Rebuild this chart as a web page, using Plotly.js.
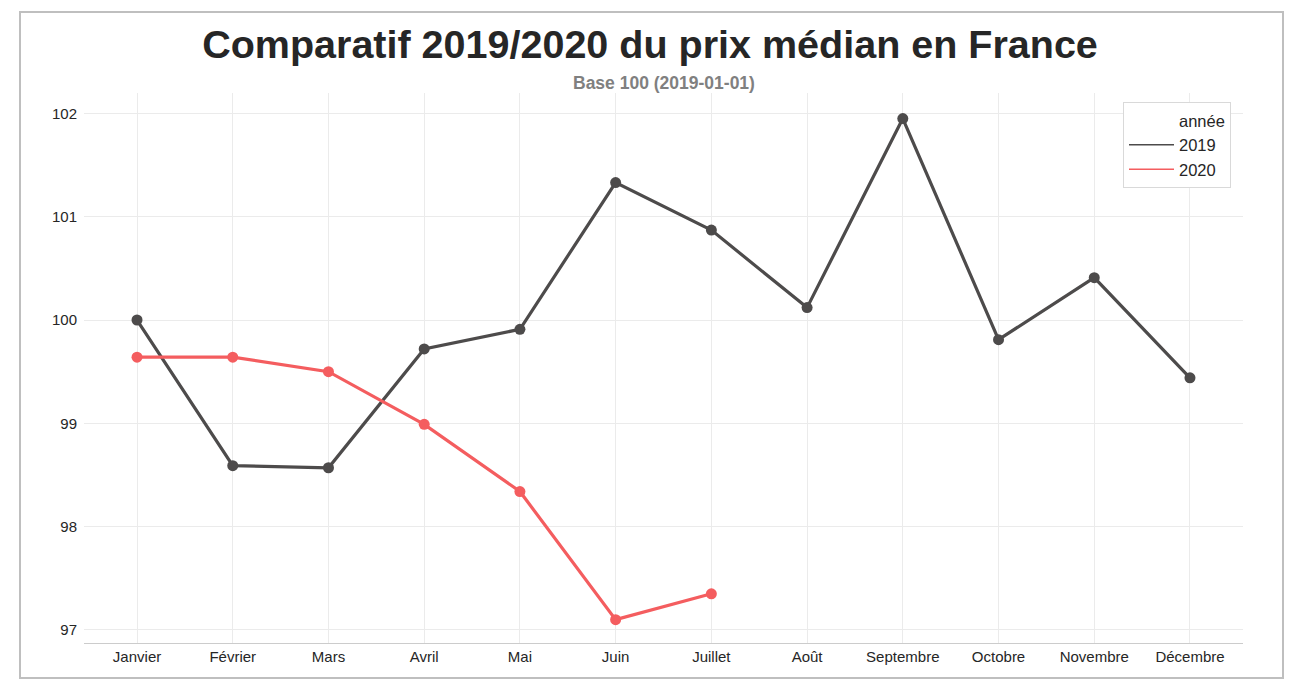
<!DOCTYPE html>
<html>
<head>
<meta charset="utf-8">
<script src="https://cdn.plot.ly/plotly-3.0.1.min.js"></script>
<style>
  html, body { margin: 0; padding: 0; background: #ffffff; }
  #wrap { position: relative; width: 1300px; height: 682px; }
  #chart { position: absolute; left: 0; top: 0; width: 1300px; height: 682px; }
  #frame { position: absolute; left: 19px; top: 11px; width: 1261px; height: 664px;
           border: 2px solid #bfbfbf; pointer-events: none; }
</style>
</head>
<body>
<div id="wrap">
  <div id="chart"></div>
  <div id="frame"></div>
</div>
<script>
const months = ["Janvier", "Février", "Mars", "Avril", "Mai", "Juin", "Juillet",
                "Août", "Septembre", "Octobre", "Novembre", "Décembre"];
const months2020 = ["Janvier", "Février", "Mars", "Avril", "Mai", "Juin", "Juillet"];
const values2019 = [100.00, 98.59, 98.57, 99.72, 99.91, 101.33, 100.87, 100.12, 101.95, 99.81, 100.41, 99.44];
const values2020 = [99.64, 99.64, 99.50, 98.99, 98.34, 97.10, 97.35];
const yTicks = [97, 98, 99, 100, 101, 102];

const col2019 = "#4d4b4b";
const col2020 = "#f45d5f";

const traces = [
  { x: months, y: values2019, type: "scatter", mode: "lines+markers", showlegend: false,
    line: { color: col2019, width: 3.2 }, marker: { color: col2019, size: 11 }, name: "2019" },
  { x: months2020, y: values2020, type: "scatter", mode: "lines+markers", showlegend: false,
    line: { color: col2020, width: 3.2 }, marker: { color: col2020, size: 11 }, name: "2020" },
  { x: [null], y: [null], type: "scatter", mode: "lines", name: "année",
    line: { color: "rgba(0,0,0,0)", width: 1.5 }, showlegend: true },
  { x: [null], y: [null], type: "scatter", mode: "lines", name: "2019",
    line: { color: col2019, width: 1.5 }, showlegend: true },
  { x: [null], y: [null], type: "scatter", mode: "lines", name: "2020",
    line: { color: col2020, width: 1.5 }, showlegend: true }
];

const layout = {
  width: 1300, height: 682,
  margin: { l: 84, r: 57, t: 93, b: 39 },
  paper_bgcolor: "#ffffff", plot_bgcolor: "#ffffff",
  font: { family: "Liberation Sans, Arial, sans-serif", color: "#262626", size: 15 },
  title: {
    text: "<b>Comparatif 2019/2020 du prix médian en France</b>",
    font: { family: "Liberation Sans, Arial, sans-serif", size: 39.5, color: "#262626" },
    x: 0.5, xref: "container", xanchor: "center",
    y: 1 - 44 / 682, yref: "container", yanchor: "middle"
  },
  annotations: [{
    text: "<b>Base 100 (2019-01-01)</b>", showarrow: false,
    xref: "paper", yref: "paper", x: 0.5, y: (643 - 83) / 550,
    xanchor: "center", yanchor: "middle",
    font: { family: "Liberation Sans, Arial, sans-serif", size: 17.5, color: "#808080" }
  }],
  xaxis: {
    type: "category", categoryarray: months, categoryorder: "array",
    range: [-0.554, 11.554],
    showgrid: true, gridcolor: "#ebebeb", gridwidth: 1,
    showline: true, linecolor: "#cccccc", linewidth: 1,
    ticks: "", tickfont: { size: 15, color: "#262626" }, zeroline: false
  },
  yaxis: {
    range: [96.874, 102.197],
    tickvals: yTicks, ticktext: yTicks.map(String),
    showgrid: true, gridcolor: "#ebebeb", gridwidth: 1,
    showline: false, ticks: "", ticklabelstandoff: 6,
    tickfont: { size: 15, color: "#262626" }, zeroline: false
  },
  legend: {
    x: (1123 - 84) / 1159, y: (643 - 102) / 550, xanchor: "left", yanchor: "top",
    bgcolor: "#ffffff", bordercolor: "#d9d9d9", borderwidth: 1,
    font: { size: 16.5, color: "#262626" }, tracegroupgap: 0, itemwidth: 45
  },
  showlegend: true
};

Plotly.newPlot("chart", traces, layout, { displayModeBar: false, staticPlot: true });
</script>
</body>
</html>
